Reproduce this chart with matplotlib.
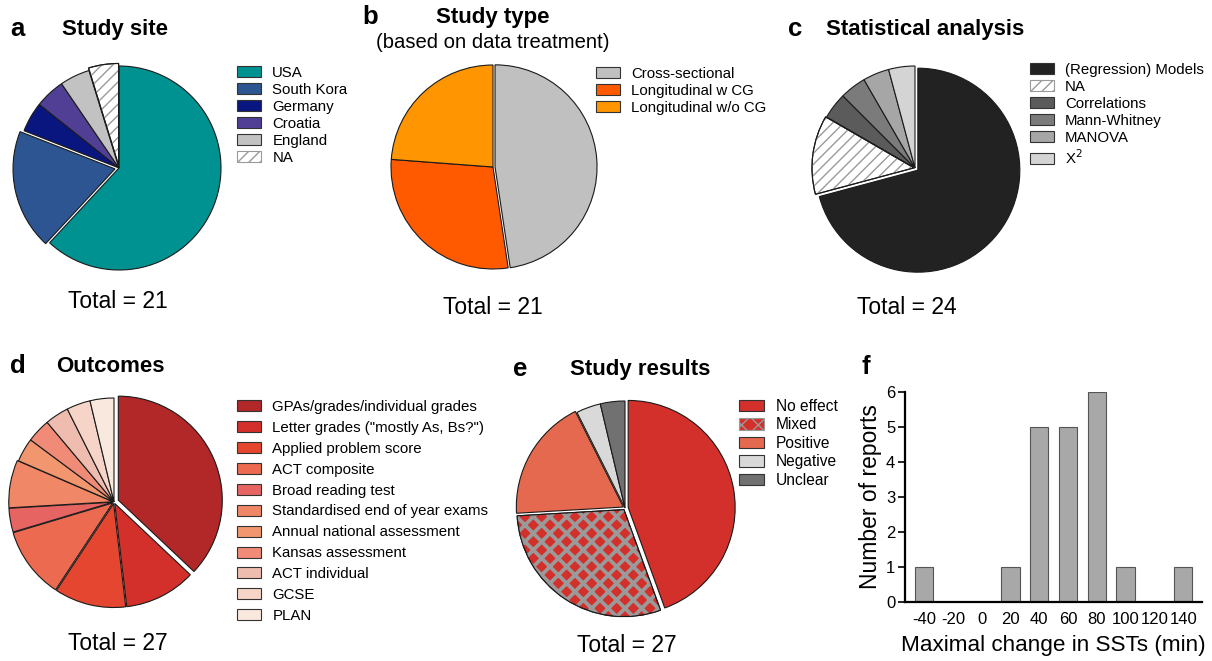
import matplotlib
matplotlib.use('Agg')
from matplotlib import pyplot as plt
from matplotlib.patches import Wedge, Patch

plt.rcParams['font.family'] = ['Liberation Sans', 'DejaVu Sans']

W, H = 1212, 661

# a - study site
site_labels = ['USA', 'South Kora', 'Germany', 'Croatia', 'England', 'NA']
site_counts = [13, 4, 1, 1, 1, 1]
site_colors = ['#009191', '#2d5591', '#0a1680', '#503f95', '#c2c2c2', 'white']

# b - study type
type_labels = ['Cross-sectional', 'Longitudinal w CG', 'Longitudinal w/o CG']
type_counts = [10, 6, 5]
type_colors = ['#c0c0c0', '#ff5a00', '#ff9500']

# c - statistical analysis
stat_labels = ['(Regression) Models', 'NA', 'Correlations', 'Mann-Whitney', 'MANOVA', 'X$^2$']
stat_counts = [17, 3, 1, 1, 1, 1]
stat_colors = ['#222222', 'white', '#5b5b5b', '#7b7b7b', '#a6a6a6', '#d4d4d4']

# d - outcomes
out_labels = ['GPAs/grades/individual grades', 'Letter grades ("mostly As, Bs?")',
              'Applied problem score', 'ACT composite', 'Broad reading test',
              'Standardised end of year exams', 'Annual national assessment',
              'Kansas assessment', 'ACT individual', 'GCSE', 'PLAN']
out_counts = [10, 3, 3, 3, 1, 2, 1, 1, 1, 1, 1]
out_colors = ['#b22727', '#d32f2b', '#e5462f', '#ec6a4f', '#e66462', '#f08767',
              '#f29670', '#ef8b76', '#efbdb0', '#f6d5c8', '#f9e8dd']

# e - study results
res_labels = ['No effect', 'Mixed', 'Positive', 'Negative', 'Unclear']
res_counts = [12, 8, 5, 1, 1]
res_colors = ['#d3302b', '#d3302b', '#e5694e', '#d9d9d9', '#717171']

# f - maximal change in SSTs
sst_bins = ['-40', '-20', '0', '20', '40', '60', '80', '100', '120', '140']
sst_counts = [1, 0, 0, 1, 5, 5, 6, 1, 0, 1]

fig = plt.figure(figsize=(W / 100, H / 100), dpi=100)


def fx(x):
    return x / W


def fy(y):
    return 1 - y / H


def pie_panel(cx, cy, r, counts, colors, explode, hatch_idx=None, hatch='///',
              hatch_color='#9a9a9a', hatch_lw=1.0):
    k = 1.3
    ax = fig.add_axes([fx(cx - k * r), fy(cy + k * r), 2 * k * r / W, 2 * k * r / H])
    wedges, _ = ax.pie(counts, colors=colors, explode=explode, startangle=90,
                       counterclock=False,
                       wedgeprops=dict(edgecolor='#1a1a1a', linewidth=0.8))
    ax.set_xlim(-k, k)
    ax.set_ylim(-k, k)
    if hatch_idx is not None:
        w = wedges[hatch_idx]
        plt.rcParams['hatch.linewidth'] = hatch_lw
        ov = Wedge(w.center, w.r, w.theta1, w.theta2, facecolor='none',
                   edgecolor=hatch_color, hatch=hatch, linewidth=0)
        ax.add_patch(ov)
        plt.rcParams['hatch.linewidth'] = 1.0
        # outline again on top
        ax.add_patch(Wedge(w.center, w.r, w.theta1, w.theta2, facecolor='none',
                           edgecolor='#1a1a1a', linewidth=0.8))
    return ax


def legend_at(x, y, labels, colors, fs=10.8, spacing=0.2, hatch_idx=None,
              hatch='///', hatch_color='#9a9a9a', face_hatch=None, hatch_lw=1.0):
    handles = []
    plt.rcParams['hatch.linewidth'] = hatch_lw
    for i, (lab, c) in enumerate(zip(labels, colors)):
        if i == hatch_idx:
            handles.append(Patch(facecolor=face_hatch or c, edgecolor=hatch_color,
                                 hatch=hatch, linewidth=0.8, label=lab))
        else:
            handles.append(Patch(facecolor=c, edgecolor='#333333', linewidth=0.8, label=lab))
    plt.rcParams['hatch.linewidth'] = 1.0
    fig.legend(handles=handles, loc='upper left', bbox_to_anchor=(fx(x), fy(y)),
               frameon=False, fontsize=fs, borderpad=0, borderaxespad=0,
               handlelength=1.6, handleheight=0.75, handletextpad=0.75,
               labelspacing=spacing)


def header(x_letter, x_title, y, letter, title):
    fig.text(fx(x_letter), fy(y), letter, fontsize=18.5, fontweight='bold', va='center')
    fig.text(fx(x_title), fy(y), title, fontsize=16, fontweight='bold',
             va='center', ha='center')


def total(x, y, n):
    fig.text(fx(x), fy(y), f'Total = {n}', fontsize=16.5, ha='center', va='center')


# a
pie_panel(119, 168, 102, site_counts, site_colors,
          [0, 0.04, 0, 0, 0, 0.025], hatch_idx=5)
header(10, 115, 29, 'a', 'Study site')
legend_at(237, 66, site_labels, site_colors, hatch_idx=5)
total(118, 301, sum(site_counts))

# b
pie_panel(493, 167, 102, type_counts, type_colors, [0.02, 0, 0])
header(362, 493, 17, 'b', 'Study type')
fig.text(fx(493), fy(43), '(based on data treatment)', fontsize=14.6, ha='center', va='center')
legend_at(596, 67, type_labels, type_colors)
total(493, 307, sum(type_counts))

# c
pie_panel(915, 168, 102, stat_counts, stat_colors,
          [0.035, 0.01, 0, 0, 0, 0], hatch_idx=1)
header(788, 925, 29, 'c', 'Statistical analysis')
legend_at(1030, 63, stat_labels, stat_colors, hatch_idx=1)
total(907, 307, sum(stat_counts))

# d
pie_panel(114, 502, 104, out_counts, out_colors,
          [0.045, 0.015, 0.015, 0.015, 0.012, 0.012, 0, 0, 0, 0, 0])
header(10, 110, 366, 'd', 'Outcomes')
legend_at(237, 400, out_labels, out_colors, spacing=0.46)
total(118, 644, sum(out_counts))

# e
pie_panel(625, 508, 107, res_counts, res_colors, [0.03, 0.018, 0.018, 0, 0],
          hatch_idx=1, hatch='xx', hatch_lw=2.7)
header(513, 640, 369, 'e', 'Study results')
legend_at(739, 399, res_labels, res_colors, fs=11.2, spacing=0.22, hatch_idx=1,
          hatch='xx', face_hatch='#d3302b', hatch_lw=2.2)
total(627, 645, sum(res_counts))

# f
axf = fig.add_axes([fx(905), fy(602), (1202 - 905) / W, (602 - 392) / H])
x = range(len(sst_bins))
axf.bar(x, sst_counts, width=0.64, color='#a8a8a8', edgecolor='#555555', linewidth=0.8)
axf.set_xlim(-0.66, 9.65)
axf.set_ylim(0, 6)
axf.set_yticks(range(7))
axf.set_xticks(list(x))
axf.set_xticklabels(sst_bins)
axf.tick_params(axis='x', length=0, labelsize=12, pad=7)
axf.tick_params(axis='y', length=5, width=1.2, labelsize=12, pad=2)
for s in ['top', 'right']:
    axf.spines[s].set_visible(False)
for s in ['left', 'bottom']:
    axf.spines[s].set_linewidth(1.6)
axf.set_ylabel('Number of reports', fontsize=16.5, labelpad=3)
axf.set_xlabel('Maximal change in SSTs (min)', fontsize=16.2, labelpad=6)
fig.text(fx(862), fy(367), 'f', fontsize=18.5, fontweight='bold', va='center')

fig.savefig('out.png', dpi=100)
